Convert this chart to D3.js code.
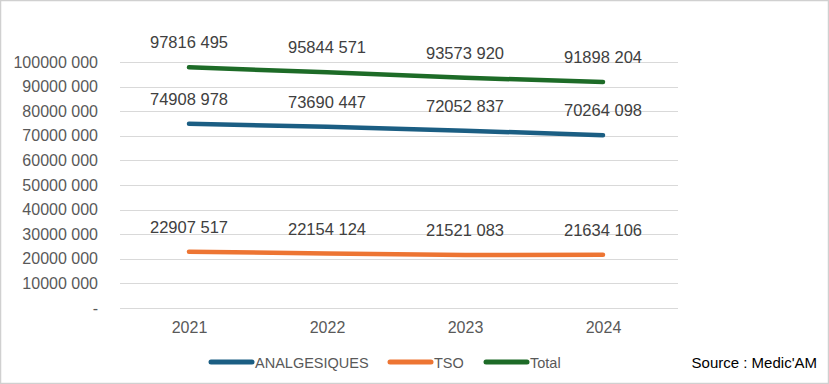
<!DOCTYPE html>
<html>
<head>
<meta charset="utf-8">
<script src="https://cdn.jsdelivr.net/npm/d3@7"></script>
<style>
  html, body { margin: 0; padding: 0; background: #fff; }
  svg { display: block; }
</style>
</head>
<body>
<div id="chart"></div>
<script>
// chart data
const years = ["2021", "2022", "2023", "2024"];
const analgesiques = [74908978, 73690447, 72052837, 70264098];
const tso = [22907517, 22154124, 21521083, 21634106];
const total = [97816495, 95844571, 93573920, 91898204];
const yTicks = [0, 10000000, 20000000, 30000000, 40000000, 50000000, 60000000, 70000000, 80000000, 90000000, 100000000];

const series = [
    { name: "ANALGESIQUES", values: analgesiques, color: "#1b5e83" },
    { name: "TSO", values: tso, color: "#ed7533" },
    { name: "Total", values: total, color: "#1d6b27" }
];

// "97816495" -> "97816 495"
function fmt(v) {
    if (v === 0) return "-";
    const s = String(Math.round(v));
    return s.slice(0, -3) + " " + s.slice(-3);
}

const W = 829, H = 384;
const svg = d3.select("#chart").append("svg")
    .attr("width", W).attr("height", H);

// outer frame
svg.append("rect")
    .attr("x", 0.5).attr("y", 0.5)
    .attr("width", W - 1).attr("height", H - 1)
    .attr("fill", "#fff").attr("stroke", "#d0d0d0").attr("stroke-width", 1.5);

const x = d3.scalePoint().domain(years).range([120, 672]).padding(0.5);
const y = d3.scaleLinear().domain([0, 100000000]).range([308, 62]);

const font = "'Liberation Sans', Arial, sans-serif";

// gridlines
svg.append("g").selectAll("line")
    .data(yTicks)
    .enter().append("line")
    .attr("x1", 120).attr("x2", 678)
    .attr("y1", d => Math.round(y(d)) + 0.5)
    .attr("y2", d => Math.round(y(d)) + 0.5)
    .attr("stroke", "#d9d9d9").attr("stroke-width", 1.2);

// y axis labels
const yAxis = svg.append("g")
    .attr("transform", "translate(98,0)")
    .call(d3.axisLeft(y).tickValues(yTicks).tickFormat(fmt).tickSize(0).tickPadding(0));
yAxis.select(".domain").remove();
yAxis.selectAll("text")
    .attr("font-family", font).attr("font-size", "16px").attr("fill", "#595959");

// x axis labels
const xAxis = svg.append("g")
    .attr("transform", "translate(0,322)")
    .call(d3.axisBottom(x).tickSize(0).tickPadding(0));
xAxis.select(".domain").remove();
xAxis.selectAll("text")
    .attr("font-family", font).attr("font-size", "16px").attr("fill", "#595959");

const line = d3.line()
    .x((d, i) => x(years[i]))
    .y(d => y(d));

series.forEach(s => {
    svg.append("path")
        .datum(s.values)
        .attr("fill", "none")
        .attr("stroke", s.color)
        .attr("stroke-width", 4.5)
        .attr("stroke-linecap", "round")
        .attr("stroke-linejoin", "round")
        .attr("d", line);

    svg.append("g").selectAll("text")
        .data(s.values)
        .enter().append("text")
        .attr("x", (d, i) => x(years[i]))
        .attr("y", d => y(d) - 19)
        .attr("text-anchor", "middle")
        .attr("font-family", font)
        .attr("font-size", "16.5px")
        .attr("fill", "#404040")
        .text(fmt);
});

// legend
const legendX = [211, 390, 486];
const legend = svg.append("g");
series.forEach((s, i) => {
    legend.append("line")
        .attr("x1", legendX[i]).attr("x2", legendX[i] + 41)
        .attr("y1", 362).attr("y2", 362)
        .attr("stroke", s.color).attr("stroke-width", 5)
        .attr("stroke-linecap", "round");
    legend.append("text")
        .attr("x", legendX[i] + 44).attr("y", 368)
        .attr("font-family", font).attr("font-size", "14.5px")
        .attr("fill", "#595959")
        .text(s.name);
});

svg.append("text")
    .attr("x", 817).attr("y", 368)
    .attr("text-anchor", "end")
    .attr("font-family", font).attr("font-size", "15px")
    .attr("fill", "#000")
    .text("Source : Medic'AM");
</script>
</body>
</html>
